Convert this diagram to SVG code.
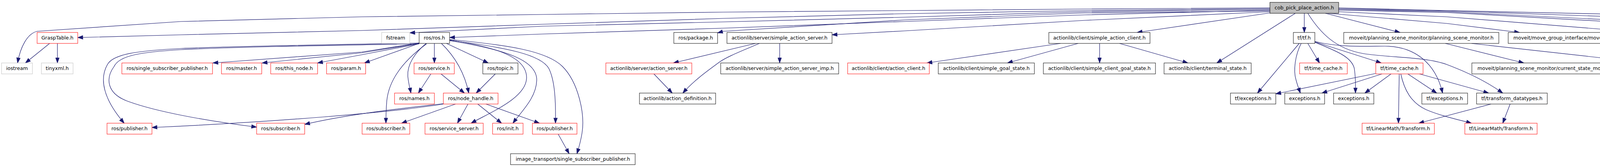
<svg xmlns="http://www.w3.org/2000/svg" width="5549" height="427" viewBox="0 0 5549 427">
<style>
.nb{fill:#fff;stroke:#000;stroke-width:1}
.nr{fill:#fff;stroke:#ff0000;stroke-width:1}
.ng{fill:#fff;stroke:#bfbfbf;stroke-width:1}
.nc{fill:#bfbfbf;stroke:#000;stroke-width:1}
text{font-family:"DejaVu Sans","Liberation Sans",sans-serif;font-size:12.6px;text-anchor:middle;fill:#000}
#edges path{fill:none;stroke:#191970;stroke-width:1.2;marker-end:url(#ah)}
</style>
<defs>
<marker id="ah" markerUnits="userSpaceOnUse" markerWidth="14" markerHeight="10" refX="13" refY="4.6" orient="auto" overflow="visible">
<path d="M0,0 L13,4.6 L0,9.2 z" fill="#191970" stroke="#191970" stroke-width="1"/>
</marker>
</defs>
<rect width="5549" height="427" fill="#fff"/>
<g id="edges">
<path d="M3251,20 L2778,23 L2315,27 L1852,31 L1389,37 L926,43 L463,55 L95,80 C70,86 52,120 45,161"/>
<path d="M3251,22 L2778,27 L2315,35 L1852,47 L1389,62 L926,78 L463,89 L199,96"/>
<path d="M3251,24 L2778,30 L2315,44 L1852,56 L1389,67 L1049,84"/>
<path d="M3251,26 L2778,38 L2315,55 L1852,72 L1389,87 L1151,96"/>
<path d="M3251,28 L2778,33 L2315,51 L1852,80 L1837,84"/>
<path d="M3251,30 L2778,52 L2315,79 L2130,89"/>
<path d="M3251,33 L2911,83"/>
<path d="M3316,34 L3115,161"/>
<path d="M3339,34 L3339,83"/>
<path d="M3393,34 L3584,83"/>
<path d="M3400,34 L3704,60 L3890,83"/>
<path d="M3427,30 L3704,43 L4167,80 L4194,84"/>
<path d="M3427,26 L3704,32 L4167,58 L4461,83"/>
<path d="M3427,24 L3704,30 L4167,53 L4630,80 L4647,83"/>
<path d="M3427,22 L3704,28 L4167,44 L4630,64 L4940,83"/>
<path d="M3427,20 L3704,27 L4167,37 L4630,53 L5093,75 L5242,83"/>
<path d="M3348,34 C3380,85 3420,125 3490,137 C3560,148 3650,145 3704,165 C3765,188 3815,215 3847,238"/>
<path d="M127,111 L65,161"/>
<path d="M147,111 L147,161"/>
<path d="M1073,110 C850,114 600,118 463,124 C350,130 290,138 275,165 C255,200 262,250 318,315"/>
<path d="M1073,112 C850,116 600,120 463,127 C360,133 305,142 292,170 C270,200 272,240 330,260 C400,285 520,308 657,325"/>
<path d="M1073,110 L926,133 L545,161"/>
<path d="M1073,111 L926,135 L671,161"/>
<path d="M1073,112 L926,140 L813,161"/>
<path d="M1073,111 L933,161"/>
<path d="M1112,111 L1112,161"/>
<path d="M1091,111 C1062,135 1042,165 1044,195 C1046,215 1050,228 1052,238"/>
<path d="M1092,112 C1040,150 995,200 990,260 C988,285 988,300 988,315"/>
<path d="M1130,111 C1160,140 1188,180 1200,238"/>
<path d="M1143,111 L1250,161"/>
<path d="M1151,102 C1250,118 1350,140 1348,200 C1346,250 1260,285 1206,315"/>
<path d="M1151,104 C1280,125 1375,150 1374,205 C1373,250 1335,285 1313,315"/>
<path d="M1151,103 C1300,122 1385,140 1405,175 C1420,205 1423,255 1422,315"/>
<path d="M1151,101 C1300,115 1400,130 1440,170 C1480,210 1498,290 1490,340 C1486,365 1481,380 1477,393"/>
<path d="M1135,265 C1050,275 900,290 780,318"/>
<path d="M1135,266 C1000,288 700,312 389,326"/>
<path d="M1166,266 L1028,315"/>
<path d="M1198,266 L1171,315"/>
<path d="M1223,266 L1284,315"/>
<path d="M1244,266 L1381,315"/>
<path d="M1103,189 L1071,238"/>
<path d="M1129,189 L1189,238"/>
<path d="M1268,189 L1219,238"/>
<path d="M1429,343 L1457,393"/>
<path d="M1934,111 L1724,161"/>
<path d="M1944,111 C1900,130 1860,145 1840,160 C1810,182 1775,207 1748,238"/>
<path d="M1996,111 L1996,161"/>
<path d="M1674,189 L1721,238"/>
<path d="M2715,111 L2373,161"/>
<path d="M2760,111 L2579,161"/>
<path d="M2815,111 L2815,161"/>
<path d="M2866,111 L3041,161"/>
<path d="M3326,111 L3219,238"/>
<path d="M3331,111 C3316,140 3310,180 3318,205 C3322,220 3326,230 3329,238"/>
<path d="M3348,111 L3378,161"/>
<path d="M3366,108 C3420,130 3460,145 3467,175 C3471,200 3470,220 3470,238"/>
<path d="M3366,107 L3536,161"/>
<path d="M3366,106 C3430,122 3500,118 3545,118 C3620,118 3675,160 3693,238"/>
<path d="M3521,188 L3266,240"/>
<path d="M3538,189 L3384,238"/>
<path d="M3561,189 L3494,238"/>
<path d="M3582,189 L3580,315"/>
<path d="M3604,189 L3678,238"/>
<path d="M3634,189 L3811,238"/>
<path d="M3586,189 C3595,230 3612,262 3650,280 C3690,297 3730,305 3767,315"/>
<path d="M3817,266 L3632,315"/>
<path d="M3866,266 L3847,315"/>
<path d="M3700,111 L3901,161"/>
<path d="M3767,111 L4217,161"/>
</g>
<g id="n_cob"><rect class="nc" x="3251" y="6" width="176" height="28"/><text x="3339" y="24">cob_pick_place_action.h</text></g>
<g id="n_grasptable"><rect class="nr" x="95" y="83" width="104" height="28"/><text x="147" y="101">GraspTable.h</text></g>
<g id="n_iostream"><rect class="ng" x="4" y="161" width="79" height="28"/><text x="43.5" y="179">iostream</text></g>
<g id="n_tinyxml"><rect class="ng" x="106" y="161" width="81" height="28"/><text x="146.5" y="179">tinyxml.h</text></g>
<g id="n_fstream"><rect class="ng" x="977" y="83" width="72" height="28"/><text x="1013" y="101">fstream</text></g>
<g id="n_rosh"><rect class="nb" x="1073" y="83" width="78" height="28"/><text x="1112" y="101">ros/ros.h</text></g>
<g id="n_pkg"><rect class="nb" x="1725" y="83" width="112" height="28"/><text x="1781" y="101">ros/package.h</text></g>
<g id="n_sas"><rect class="nb" x="1861" y="83" width="269" height="28"/><text x="1995.5" y="101">actionlib/server/simple_action_server.h</text></g>
<g id="n_sac"><rect class="nb" x="2685" y="83" width="259" height="28"/><text x="2814.5" y="101">actionlib/client/simple_action_client.h</text></g>
<g id="n_tf"><rect class="nb" x="3311" y="83" width="55" height="28"/><text x="3338.5" y="101">tf/tf.h</text></g>
<g id="n_psm"><rect class="nb" x="3440" y="83" width="397" height="28"/><text x="3638.5" y="101">moveit/planning_scene_monitor/planning_scene_monitor.h</text></g>
<g id="n_mg"><rect class="nb" x="3861" y="83" width="309" height="28"/><text x="4015.5" y="101">moveit/move_group_interface/move_group.h</text></g>
<g id="n_shape"><rect class="nb" x="4194" y="83" width="244" height="28"/><text x="4316" y="101">shape_tools/solid_primitive_dims.h</text></g>
<g id="n_grasp"><rect class="ng" x="4461" y="83" width="163" height="28"/><text x="4542.5" y="101">moveit_msgs/Grasp.h</text></g>
<g id="n_pick"><rect class="ng" x="4647" y="83" width="271" height="28"/><text x="4782.5" y="101">cob_pick_place_action/CobPickAction.h</text></g>
<g id="n_place"><rect class="ng" x="4940" y="83" width="279" height="28"/><text x="5079.5" y="101">cob_pick_place_action/CobPlaceAction.h</text></g>
<g id="n_query"><rect class="ng" x="5242" y="83" width="303" height="28"/><text x="5393.5" y="101">cob_grasp_generation/QueryGraspsAction.h</text></g>
<g id="n_ssp"><rect class="nr" x="312" y="161" width="232" height="28"/><text x="428" y="179">ros/single_subscriber_publisher.h</text></g>
<g id="n_master"><rect class="nr" x="567" y="161" width="103" height="28"/><text x="618.5" y="179">ros/master.h</text></g>
<g id="n_thisnode"><rect class="nr" x="693" y="161" width="120" height="28"/><text x="753" y="179">ros/this_node.h</text></g>
<g id="n_param"><rect class="nr" x="836" y="161" width="100" height="28"/><text x="886" y="179">ros/param.h</text></g>
<g id="n_service"><rect class="nr" x="1060" y="161" width="103" height="28"/><text x="1111.5" y="179">ros/service.h</text></g>
<g id="n_topic"><rect class="nb" x="1236" y="161" width="90" height="28"/><text x="1281" y="179">ros/topic.h</text></g>
<g id="n_as"><rect class="nr" x="1551" y="161" width="220" height="28"/><text x="1661" y="179">actionlib/server/action_server.h</text></g>
<g id="n_sasimp"><rect class="nb" x="1845" y="161" width="302" height="28"/><text x="1996" y="179">actionlib/server/simple_action_server_imp.h</text></g>
<g id="n_ac"><rect class="nr" x="2170" y="161" width="209" height="28"/><text x="2274.5" y="179">actionlib/client/action_client.h</text></g>
<g id="n_sgs"><rect class="nb" x="2402" y="161" width="246" height="28"/><text x="2525" y="179">actionlib/client/simple_goal_state.h</text></g>
<g id="n_scgs"><rect class="nb" x="2671" y="161" width="287" height="28"/><text x="2814.5" y="179">actionlib/client/simple_client_goal_state.h</text></g>
<g id="n_ts"><rect class="nb" x="2980" y="161" width="223" height="28"/><text x="3091.5" y="179">actionlib/client/terminal_state.h</text></g>
<g id="n_tc1"><rect class="nr" x="3327" y="161" width="122" height="28"/><text x="3388" y="179">tf/time_cache.h</text></g>
<g id="n_tc2"><rect class="nr" x="3522" y="161" width="121" height="28"/><text x="3582.5" y="179">tf/time_cache.h</text></g>
<g id="n_csm"><rect class="nb" x="3768" y="161" width="384" height="28"/><text x="3960" y="179">moveit/planning_scene_monitor/current_state_monitor.h</text></g>
<g id="n_rml"><rect class="nr" x="4175" y="161" width="342" height="28"/><text x="4346" y="179">moveit/robot_model_loader/robot_model_loader.h</text></g>
<g id="n_names"><rect class="nr" x="1010" y="238" width="102" height="28"/><text x="1061" y="256">ros/names.h</text></g>
<g id="n_nh"><rect class="nr" x="1135" y="238" width="140" height="28"/><text x="1205" y="256">ros/node_handle.h</text></g>
<g id="n_ad"><rect class="nb" x="1637" y="238" width="195" height="28"/><text x="1734.5" y="256">actionlib/action_definition.h</text></g>
<g id="n_tfex1"><rect class="nb" x="3150" y="238" width="116" height="28"/><text x="3208" y="256">tf/exceptions.h</text></g>
<g id="n_ex1"><rect class="nb" x="3289" y="238" width="102" height="28"/><text x="3340" y="256">exceptions.h</text></g>
<g id="n_ex2"><rect class="nb" x="3414" y="238" width="103" height="28"/><text x="3465.5" y="256">exceptions.h</text></g>
<g id="n_tfex2"><rect class="nb" x="3640" y="238" width="117" height="28"/><text x="3698.5" y="256">tf/exceptions.h</text></g>
<g id="n_td"><rect class="nb" x="3780" y="238" width="181" height="28"/><text x="3870.5" y="256">tf/transform_datatypes.h</text></g>
<g id="n_pub1"><rect class="nr" x="274" y="315" width="115" height="28"/><text x="331.5" y="333">ros/publisher.h</text></g>
<g id="n_sub1"><rect class="nr" x="657" y="315" width="123" height="28"/><text x="718.5" y="333">ros/subscriber.h</text></g>
<g id="n_sub2"><rect class="nr" x="927" y="315" width="122" height="28"/><text x="988" y="333">ros/subscriber.h</text></g>
<g id="n_ss"><rect class="nr" x="1088" y="315" width="149" height="28"/><text x="1162.5" y="333">ros/service_server.h</text></g>
<g id="n_init"><rect class="nr" x="1261" y="315" width="78" height="28"/><text x="1300" y="333">ros/init.h</text></g>
<g id="n_pub2"><rect class="nr" x="1363" y="315" width="114" height="28"/><text x="1420" y="333">ros/publisher.h</text></g>
<g id="n_lt1"><rect class="nr" x="3487" y="315" width="185" height="28"/><text x="3579.5" y="333">tf/LinearMath/Transform.h</text></g>
<g id="n_lt2"><rect class="nr" x="3750" y="315" width="185" height="28"/><text x="3842.5" y="333">tf/LinearMath/Transform.h</text></g>
<g id="n_it"><rect class="nb" x="1307" y="393" width="319" height="28"/><text x="1466.5" y="411">image_transport/single_subscriber_publisher.h</text></g>
</svg>
